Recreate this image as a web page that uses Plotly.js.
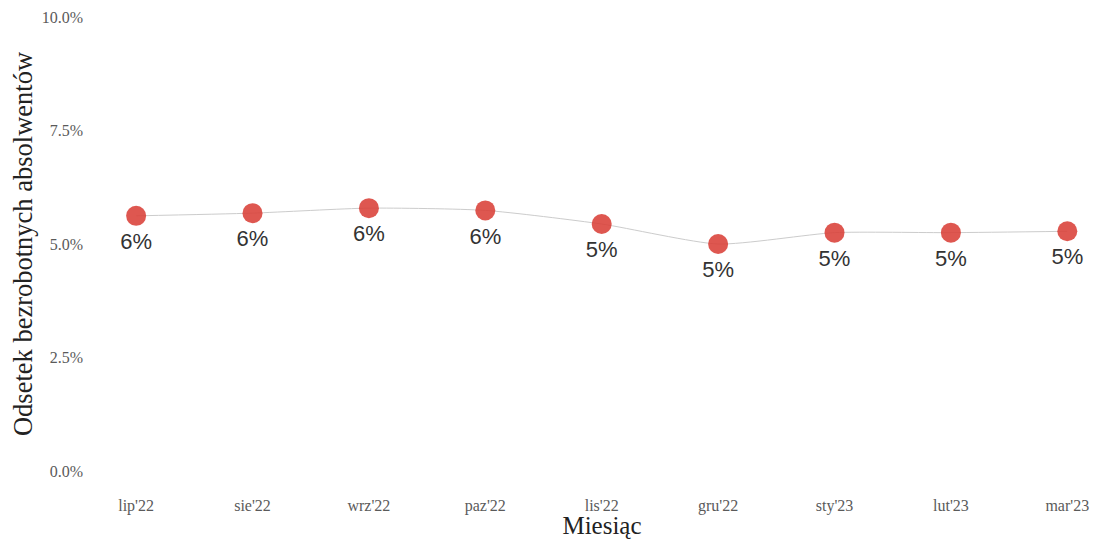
<!DOCTYPE html>
<html>
<head>
<meta charset="utf-8">
<script src="https://cdn.plot.ly/plotly-3.0.1.min.js"></script>
<style>html,body{margin:0;padding:0;background:#fff;}#chart{width:1095px;height:539px;}</style>
</head>
<body>
<div id="chart"></div>
<script>
const months = ["lip'22","sie'22","wrz'22","paz'22","lis'22","gru'22","sty'23","lut'23","mar'23"];
const rates = [0.0562, 0.0568, 0.0579, 0.0574, 0.0544, 0.0500, 0.0525, 0.0525, 0.0528];
const yTicks = [0, 0.025, 0.05, 0.075, 0.10];

const lineTrace = {
  x: months,
  y: rates,
  type: 'scatter',
  mode: 'lines+markers',
  line: {color: '#cccccc', width: 1, shape: 'spline', smoothing: 0.6},
  marker: {size: 20, color: 'rgba(218,64,56,0.88)', line: {width: 0}},
  hoverinfo: 'x+y',
  cliponaxis: false
};

const labelTrace = {
  x: months,
  y: rates,
  type: 'scatter',
  mode: 'markers+text',
  marker: {size: 25, opacity: 0},
  texttemplate: '%{y:.0%}',
  textposition: 'bottom center',
  textfont: {family: 'Liberation Sans, Arial, sans-serif', size: 22, color: '#333333'},
  hoverinfo: 'skip',
  cliponaxis: false
};

const layout = {
  width: 1095, height: 539,
  margin: {l: 114, r: 5, t: 17, b: 68},
  paper_bgcolor: '#ffffff', plot_bgcolor: '#ffffff',
  showlegend: false,
  xaxis: {
    type: 'category',
    range: [-0.19, 8.195],
    showgrid: false, zeroline: false, showline: false, ticks: '',
    ticklabelstandoff: 23,
    tickfont: {family: 'Liberation Serif, serif', size: 16, color: '#5a5a5a'},
    title: {text: 'Miesiąc', font: {family: 'Liberation Serif, serif', size: 25, color: '#222222'}, standoff: 0}
  },
  yaxis: {
    range: [0, 0.10],
    tickvals: yTicks,
    tickformat: '.1%',
    showgrid: false, zeroline: false, showline: false, ticks: '',
    ticklabelstandoff: 30,
    tickfont: {family: 'Liberation Serif, serif', size: 16, color: '#5a5a5a'},
    title: {text: 'Odsetek bezrobotnych absolwentów', font: {family: 'Liberation Serif, serif', size: 26.5, color: '#222222'}, standoff: 1}
  }
};

Plotly.newPlot('chart', [lineTrace, labelTrace], layout, {displayModeBar: false, staticPlot: true});
</script>
</body>
</html>
